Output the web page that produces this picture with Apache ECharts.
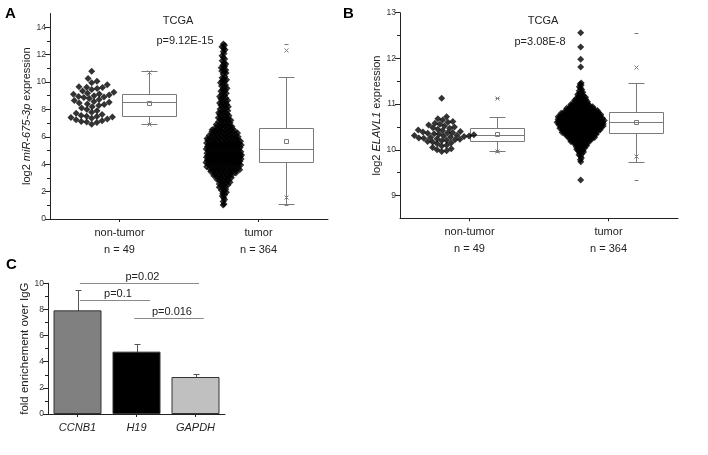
<!DOCTYPE html>
<html><head><meta charset="utf-8">
<script src="https://cdn.jsdelivr.net/npm/echarts@6/dist/echarts.min.js"></script>
<style>html,body{margin:0;padding:0;background:#fff}#c{width:708px;height:455px}</style>
</head><body><div id="c"></div>
<script>
// ---------------- DATA ----------------
const groupLabels = ['non-tumor', 'tumor'];
const groupN = ['n = 49', 'n = 364'];
const titleA = 'TCGA', pvalA = 'p=9.12E-15';
const titleB = 'TCGA', pvalB = 'p=3.08E-8';
const yTicksA = [0, 2, 4, 6, 8, 10, 12, 14];
const yMinorA = [1, 3, 5, 7, 9, 11, 13];
const yTicksB = [9, 10, 11, 12, 13];
const yMinorB = [9.5, 10.5, 11.5, 12.5];

const mirNonTumor = [6.91,7.05,7.08,7.12,7.18,7.25,7.30,7.35,7.40,7.44,7.48,7.50,7.55,7.62,7.72,7.80,7.90,8.00,8.10,8.20,8.28,8.35,8.40,8.46,8.52,8.58,8.65,8.72,8.80,8.86,8.90,8.95,9.00,9.05,9.10,9.13,9.18,9.25,9.35,9.45,9.52,9.60,9.62,9.65,9.80,9.95,10.05,10.25,10.78];

const mirTumor = [1.03,1.10,1.28,1.42,
1.56,1.68,1.77,1.86,1.95,
2.02,2.09,2.18,2.24,2.31,2.37,2.43,2.48,
2.51,2.55,2.62,2.66,2.69,2.74,2.77,2.83,2.85,2.89,2.93,2.97,
3.01,3.04,3.05,3.09,3.11,3.15,3.16,3.20,3.23,3.24,3.27,3.29,3.31,3.35,3.36,3.38,3.41,3.43,3.46,3.47,3.49,
3.50,3.52,3.53,3.56,3.58,3.59,3.61,3.62,3.64,3.66,3.67,3.69,3.71,3.72,3.74,3.75,3.78,3.79,3.81,3.82,3.84,3.86,3.87,3.89,3.91,3.92,3.94,3.96,3.97,3.99,
4.00,4.01,4.02,4.04,4.05,4.06,4.08,4.09,4.10,4.12,4.13,4.14,4.15,4.17,4.18,4.19,4.21,4.22,4.23,4.24,4.26,4.27,4.28,4.30,4.31,4.32,4.33,4.35,4.36,4.37,4.38,4.40,4.41,4.42,4.43,4.44,4.45,4.46,4.47,4.48,4.49,4.49,
4.50,4.51,4.51,4.52,4.53,4.54,4.55,4.55,4.56,4.57,4.58,4.59,4.60,4.61,4.61,4.62,4.63,4.64,4.65,4.66,4.67,4.67,4.68,4.69,4.70,4.71,4.72,4.73,4.73,4.74,4.75,4.76,4.77,4.78,4.79,4.80,4.81,4.82,4.83,4.85,4.86,4.87,4.89,4.90,4.92,4.94,4.96,4.98,
5.00,5.01,5.03,5.04,5.05,5.07,5.08,5.09,5.11,5.12,5.13,5.15,5.16,5.18,5.19,5.20,5.22,5.23,5.25,5.26,5.27,5.29,5.30,5.32,5.33,5.35,5.36,5.38,5.39,5.41,5.42,5.43,5.44,5.45,5.46,5.47,5.48,5.49,5.49,
5.50,5.52,5.53,5.55,5.56,5.58,5.59,5.61,5.63,5.64,5.66,5.67,5.69,5.70,5.72,5.74,5.75,5.77,5.79,5.80,5.82,5.84,5.85,5.87,5.88,5.90,5.92,5.93,5.95,5.97,5.98,5.99,
6.01,6.03,6.05,6.07,6.09,6.11,6.13,6.15,6.17,6.19,6.21,6.23,6.25,6.27,6.29,6.31,6.33,6.35,6.37,6.39,6.41,6.43,6.45,6.46,6.48,6.49,
6.52,6.55,6.58,6.61,6.64,6.66,6.69,6.72,6.75,6.78,6.81,6.84,6.87,6.90,6.94,6.97,
7.02,7.06,7.09,7.13,7.17,7.20,7.24,7.28,7.31,7.35,7.39,7.43,7.47,
7.53,7.57,7.62,7.66,7.71,7.75,7.80,7.85,7.90,7.96,
8.03,8.08,8.14,8.19,8.25,8.31,8.36,8.42,8.47,
8.53,8.59,8.65,8.71,8.77,8.83,8.89,8.95,
9.04,9.11,9.18,9.25,9.32,9.39,9.46,
9.55,9.62,9.70,9.78,9.86,9.94,
10.03,10.10,10.17,10.24,10.31,10.39,
10.58,10.65,10.73,10.81,10.88,10.95,
11.04,11.13,11.22,11.31,11.40,
11.55,11.67,11.79,11.91,
12.08,12.22,12.35,12.47,
12.58,12.68,12.78];

const elavlNonTumor = [9.96,9.98,10.00,10.02,10.05,10.08,10.10,10.13,10.15,10.17,10.18,10.20,10.21,10.22,10.23,10.24,10.25,10.26,10.27,10.28,10.29,10.30,10.30,10.31,10.32,10.33,10.34,10.35,10.36,10.37,10.38,10.39,10.40,10.42,10.43,10.45,10.47,10.48,10.50,10.52,10.54,10.56,10.58,10.60,10.62,10.65,10.68,10.72,11.13];

const elavlTumor = [9.34,
9.74,9.78,
9.82,9.86,9.89,
9.91,9.93,9.95,9.96,9.98,9.99,
10.00,10.01,10.02,10.03,10.04,10.05,10.06,10.07,10.08,10.09,
10.10,10.11,10.11,10.12,10.13,10.13,10.14,10.15,10.15,10.16,10.17,10.17,10.18,10.18,10.19,10.19,
10.20,10.20,10.21,10.21,10.22,10.22,10.22,10.23,10.23,10.24,10.24,10.24,10.25,10.25,10.26,10.26,10.26,10.27,10.27,10.28,10.28,10.28,10.29,10.29,
10.30,10.30,10.30,10.31,10.31,10.31,10.32,10.32,10.32,10.32,10.33,10.33,10.33,10.34,10.34,10.34,10.35,10.35,10.35,10.35,10.36,10.36,10.36,10.37,10.37,10.37,10.38,10.38,10.38,10.39,10.39,10.39,
10.40,10.40,10.40,10.40,10.41,10.41,10.41,10.41,10.42,10.42,10.42,10.42,10.43,10.43,10.43,10.43,10.44,10.44,10.44,10.44,10.45,10.45,10.45,10.45,10.46,10.46,10.46,10.46,10.47,10.47,10.47,10.47,10.48,10.48,10.48,10.48,10.49,10.49,10.49,10.49,
10.50,10.50,10.50,10.50,10.51,10.51,10.51,10.51,10.52,10.52,10.52,10.52,10.52,10.53,10.53,10.53,10.53,10.54,10.54,10.54,10.54,10.55,10.55,10.55,10.55,10.55,10.56,10.56,10.56,10.56,10.57,10.57,10.57,10.57,10.57,10.58,10.58,10.58,10.58,10.59,10.59,10.59,10.59,10.59,
10.60,10.60,10.60,10.60,10.60,10.61,10.61,10.61,10.61,10.62,10.62,10.62,10.62,10.62,10.63,10.63,10.63,10.63,10.64,10.64,10.64,10.64,10.64,10.65,10.65,10.65,10.65,10.65,10.66,10.66,10.66,10.66,10.67,10.67,10.67,10.67,10.67,10.68,10.68,10.68,10.68,10.69,10.69,10.69,10.69,10.69,
10.70,10.70,10.70,10.70,10.71,10.71,10.71,10.71,10.72,10.72,10.72,10.72,10.73,10.73,10.73,10.73,10.73,10.74,10.74,10.74,10.74,10.75,10.75,10.75,10.75,10.76,10.76,10.76,10.76,10.77,10.77,10.77,10.77,10.78,10.78,10.78,10.78,10.79,10.79,10.79,10.79,
10.80,10.80,10.80,10.80,10.81,10.81,10.81,10.82,10.82,10.82,10.82,10.83,10.83,10.83,10.84,10.84,10.84,10.84,10.85,10.85,10.85,10.86,10.86,10.86,10.86,10.87,10.87,10.87,10.88,10.88,10.88,10.89,10.89,10.89,
10.90,10.90,10.91,10.91,10.91,10.92,10.92,10.93,10.93,10.93,10.94,10.94,10.95,10.95,10.95,10.96,10.96,10.97,10.97,10.97,10.98,10.98,10.99,10.99,
11.00,11.01,11.01,11.02,11.03,11.04,11.04,11.05,11.06,11.06,11.07,11.07,11.08,11.09,11.09,
11.10,11.11,11.12,11.13,11.14,11.15,11.16,11.17,11.18,11.19,
11.21,11.22,11.24,11.26,11.27,11.29,
11.32,11.35,11.38,
11.41,11.44,11.46,
11.81,11.98,12.25,12.56];

// box statistics: [whiskerLow, Q1, median, Q3, whiskerHigh, mean, p1, p99, min, max]
const mirBoxNonTumor = [6.91, 7.52, 8.52, 9.15, 10.78, 8.45, 6.95, 10.75, 6.91, 10.78];
const mirBoxTumor = [1.09, 4.14, 5.13, 6.66, 10.39, 5.72, 1.63, 12.33, 1.05, 12.80];
const elavlBoxNonTumor = [9.98, 10.20, 10.32, 10.47, 10.72, 10.34, 9.98, 11.13, 9.96, 11.13];
const elavlBoxTumor = [9.74, 10.37, 10.61, 10.82, 11.46, 10.61, 9.87, 11.81, 9.34, 12.56];

// panel C
const ripGenes = ['CCNB1', 'H19', 'GAPDH'];
const ripMeans = [7.93, 4.77, 2.83];
const ripErrors = [1.56, 0.56, 0.24];
const ripColors = ['#808080', '#000000', '#c0c0c0'];
const ripBrackets = [ // [fromX, toX, y, label]
  [0.04, 2.06, 10.0, 'p=0.02'],
  [0.04, 1.23, 8.72, 'p=0.1'],
  [0.96, 2.14, 7.32, 'p=0.016']
];

// ---------------- LAYOUT ----------------
const FONT = 'Liberation Sans, Arial, Helvetica, sans-serif';
const gA = {left: 50, top: 13.5, width: 278, height: 205.5};
const gB = {left: 400, top: 12.7, width: 278, height: 205.6};
const gC = {left: 48, top: 283.3, width: 177, height: 130.7};
const SWARM_OFF_A = [0.2, 0.25], BOX_OFF_A = [0.21, 0.195];
const SWARM_OFF_B = [0.2, 0.2], BOX_OFF_B = [0.2, 0.2];
const BOX_W = 53, CAP_W = 15;

// greedy beeswarm (sparse groups)
function swarm(values, pxPerUnit, d) {
  const idx = values.map((v, i) => i).sort((a, b) => values[a] - values[b]);
  const placed = [];
  const out = new Array(values.length);
  for (const i of idx) {
    const y = values[i] * pxPerUnit;
    const near = placed.filter(p => Math.abs(p.y - y) < d);
    const cands = [0];
    near.forEach(p => { const dx = Math.sqrt(d * d - (p.y - y) ** 2); cands.push(p.x + dx, p.x - dx); });
    cands.sort((a, b) => Math.abs(a) - Math.abs(b));
    let x = 0;
    for (const c of cands) {
      if (near.every(p => (p.x - c) ** 2 + (p.y - y) ** 2 >= d * d - 1e-6)) { x = c; break; }
    }
    placed.push({x, y});
    out[i] = x;
  }
  return out;
}
// density-scaled deterministic spread (dense groups)
function densitySpread(values, pxPerUnit, win, k, cap) {
  const ys = values.map(v => v * pxPerUnit);
  const order = values.map((v, i) => i).sort((a, b) => values[a] - values[b]);
  const out = new Array(values.length);
  order.forEach((i, r) => {
    const cnt = ys.filter(y => Math.abs(y - ys[i]) <= win).length;
    const hw = Math.min(cap, k * (cnt - 1)) / 2;
    const u = ((r * 0.6180339887) % 1) * 2 - 1;
    out[i] = hw * u;
  });
  return out;
}
function toData(values, off, center, pxX) {
  return values.map((v, i) => [center + off[i] / pxX, v]);
}
const pxXA = gA.width / 2, pxYA = gA.height / 15;
const pxXB = gB.width / 2, pxYB = gB.height / 4.5;

const half = v => Math.round(v) + 0.5;
function boxRender(params, api) {
  const x = api.value(0);
  const s = [1,2,3,4,5,6,7,8,9,10].map(i => api.value(i));
  const [wlo, q1, med, q3, whi, mean, p1, p99, mn, mx] = s;
  const cx = half(api.coord([x, med])[0]);
  const Y = v => half(api.coord([x, v])[1]);
  const st = {stroke: '#7a7a7a', fill: null, lineWidth: 1};
  const line = (x1, y1, x2, y2) => ({type: 'line', shape: {x1, y1, x2, y2}, style: st});
  const ch = [];
  const hw = Math.round(BOX_W / 2), cw = Math.round(CAP_W / 2);
  ch.push({type: 'rect', shape: {x: cx - hw, y: Y(q3), width: 2 * hw, height: Y(q1) - Y(q3)}, style: st});
  ch.push(line(cx - hw, Y(med), cx + hw, Y(med)));
  ch.push(line(cx, Y(q3), cx, Y(whi)));
  ch.push(line(cx, Y(q1), cx, Y(wlo)));
  ch.push(line(cx - cw, Y(whi), cx + cw, Y(whi)));
  ch.push(line(cx - cw, Y(wlo), cx + cw, Y(wlo)));
  ch.push({type: 'rect', shape: {x: cx - 2, y: Y(mean) - 2, width: 4, height: 4}, style: st});
  [p1, p99].forEach(v => { const y = Y(v); ch.push(line(cx - 2, y - 2, cx + 2, y + 2)); ch.push(line(cx - 2, y + 2, cx + 2, y - 2)); });
  [mn, mx].forEach(v => { const y = Y(v); ch.push(line(cx - 2, y, cx + 2, y)); });
  return {type: 'group', children: ch};
}

const axisLineStyle = {color: '#222', width: 1};
const tickLbl = {fontSize: 8.5, color: '#333', fontFamily: FONT};

function xGroupAxis(gridIndex) {
  return {
    type: 'value', gridIndex, min: 0.5, max: 2.5,
    axisLine: {show: true, onZero: false, lineStyle: axisLineStyle},
    axisTick: {show: true, customValues: [1, 2], length: 3, lineStyle: axisLineStyle},
    axisLabel: {customValues: [1, 2], formatter: v => groupLabels[v - 1] + '\n' + groupN[v - 1],
      fontSize: 11, lineHeight: 17, color: '#222', fontFamily: FONT, margin: 5},
    splitLine: {show: false}
  };
}
function yMajor(gridIndex, min, max, ticks, name, rich, gap) {
  return {
    type: 'value', gridIndex, min, max,
    axisLine: {show: true, onZero: false, lineStyle: axisLineStyle},
    axisTick: {show: true, customValues: ticks, length: 5, lineStyle: axisLineStyle},
    axisLabel: {customValues: ticks, ...tickLbl, margin: 4},
    splitLine: {show: false},
    name, nameLocation: 'middle', nameGap: gap, nameRotate: 90,
    nameTextStyle: {rich}
  };
}
function yMinor(gridIndex, min, max, ticks) {
  return {
    type: 'value', gridIndex, min, max, position: 'left',
    axisLine: {show: false},
    axisTick: {show: true, customValues: ticks, length: 3, lineStyle: axisLineStyle},
    axisLabel: {show: false}, splitLine: {show: false}
  };
}
const richBase = {fontSize: 11, color: '#222', fontFamily: FONT};
const richName = {n: richBase, i: {...richBase, fontStyle: 'italic'}};
const txt = {fontSize: 11, fill: '#222', fontFamily: FONT, align: 'center', verticalAlign: 'middle'};
const dotStyle = {symbol: 'diamond', symbolSize: 7, itemStyle: {color: '#000'}};

const chart = echarts.init(document.getElementById('c'), null, {renderer: 'canvas'});
chart.setOption({
  animation: false,
  backgroundColor: '#fff',
  grid: [
    {left: gA.left, top: gA.top, width: gA.width, height: gA.height},
    {left: gB.left, top: gB.top, width: gB.width, height: gB.height},
    {left: gC.left, top: gC.top, width: gC.width, height: gC.height}
  ],
  xAxis: [
    xGroupAxis(0),
    xGroupAxis(1),
    {type: 'category', gridIndex: 2, data: ripGenes,
      axisLine: {show: true, onZero: false, lineStyle: axisLineStyle},
      axisTick: {show: true, alignWithLabel: true, length: 3, lineStyle: axisLineStyle},
      axisLabel: {fontSize: 11, fontStyle: 'italic', color: '#222', fontFamily: FONT, margin: 8}},
    {type: 'value', gridIndex: 2, min: -0.5, max: 2.5, show: false}
  ],
  yAxis: [
    yMajor(0, 0, 15, yTicksA, '{n|log2 }{i|miR-675-3p}{n| expression}', richName, 18),
    yMinor(0, 0, 15, yMinorA),
    yMajor(1, 8.5, 13, yTicksB, '{n|log2 }{i|ELAVL1}{n| expression}', richName, 16),
    yMinor(1, 8.5, 13, yMinorB),
    {type: 'value', gridIndex: 2, min: 0, max: 10, interval: 2,
      axisLine: {show: true, onZero: false, lineStyle: axisLineStyle},
      axisTick: {show: true, length: 5, lineStyle: axisLineStyle},
      minorTick: {show: true, splitNumber: 2, length: 3, lineStyle: axisLineStyle},
      axisLabel: {...tickLbl, margin: 4},
      splitLine: {show: false},
      name: 'fold enrichement over IgG', nameLocation: 'middle', nameGap: 5, nameRotate: 90,
      nameTextStyle: {fontSize: 11.5, color: '#222', fontFamily: FONT}}
  ],
  series: [
    {type: 'scatter', xAxisIndex: 0, yAxisIndex: 0, ...dotStyle,
      data: toData(mirNonTumor, swarm(mirNonTumor, pxYA, 5.5), 1 - SWARM_OFF_A[0], pxXA)},
    {type: 'scatter', xAxisIndex: 0, yAxisIndex: 0, ...dotStyle,
      data: toData(mirTumor, densitySpread(mirTumor, pxYA, 3.4, 1.2, 36), 2 - SWARM_OFF_A[1], pxXA)},
    {type: 'scatter', xAxisIndex: 1, yAxisIndex: 2, ...dotStyle,
      data: toData(elavlNonTumor, swarm(elavlNonTumor, pxYB, 5), 1 - SWARM_OFF_B[0], pxXB)},
    {type: 'scatter', xAxisIndex: 1, yAxisIndex: 2, ...dotStyle,
      data: toData(elavlTumor, densitySpread(elavlTumor, pxYB, 3.4, 0.72, 50), 2 - SWARM_OFF_B[1], pxXB)},
    {type: 'custom', xAxisIndex: 0, yAxisIndex: 0, renderItem: boxRender,
      data: [[1 + BOX_OFF_A[0], ...mirBoxNonTumor], [2 + BOX_OFF_A[1], ...mirBoxTumor]]},
    {type: 'custom', xAxisIndex: 1, yAxisIndex: 2, renderItem: boxRender,
      data: [[1 + BOX_OFF_B[0], ...elavlBoxNonTumor], [2 + BOX_OFF_B[1], ...elavlBoxTumor]]},
    {type: 'bar', xAxisIndex: 2, yAxisIndex: 4, barWidth: 48,
      data: ripMeans.map((v, i) => ({value: v, itemStyle: {color: ripColors[i], borderColor: '#333', borderWidth: 1}}))},
    {type: 'custom', xAxisIndex: 3, yAxisIndex: 4,
      data: ripMeans.map((v, i) => [i, v - ripErrors[i], v + ripErrors[i]]),
      renderItem: (params, api) => {
        const lo = api.coord([api.value(0), api.value(1)]);
        const hi = api.coord([api.value(0), api.value(2)]);
        const x = half(lo[0]);
        const st = {stroke: '#555', lineWidth: 1};
        return {type: 'group', children: [
          {type: 'line', shape: {x1: x, y1: half(lo[1]), x2: x, y2: half(hi[1])}, style: st},
          {type: 'line', shape: {x1: x - 3, y1: half(lo[1]), x2: x + 3, y2: half(lo[1])}, style: st},
          {type: 'line', shape: {x1: x - 3, y1: half(hi[1]), x2: x + 3, y2: half(hi[1])}, style: st}
        ]};
      }},
    {type: 'custom', xAxisIndex: 3, yAxisIndex: 4,
      data: ripBrackets.map(b => [b[0], b[1], b[2]]),
      renderItem: (params, api) => {
        const a = api.coord([api.value(0), api.value(2)]);
        const b = api.coord([api.value(1), api.value(2)]);
        const y = half(a[1]);
        return {type: 'group', children: [
          {type: 'line', shape: {x1: a[0], y1: y, x2: b[0], y2: y}, style: {stroke: '#8a8a8a', lineWidth: 1}},
          {type: 'text', x: (a[0] + b[0]) / 2 + 3, y: y - 1,
            style: {text: ripBrackets[params.dataIndex][3], fontSize: 11, fill: '#222', fontFamily: FONT,
              align: 'center', verticalAlign: 'bottom'}}
        ]};
      }}
  ],
  graphic: [
    {type: 'text', left: 5, top: 6, style: {text: 'A', fontSize: 15, fontWeight: 'bold', fill: '#000', fontFamily: FONT}},
    {type: 'text', left: 343, top: 6, style: {text: 'B', fontSize: 15, fontWeight: 'bold', fill: '#000', fontFamily: FONT}},
    {type: 'text', left: 6, top: 257, style: {text: 'C', fontSize: 15, fontWeight: 'bold', fill: '#000', fontFamily: FONT}},
    {type: 'text', x: 178, y: 21, style: {text: titleA, ...txt}},
    {type: 'text', x: 185, y: 41, style: {text: pvalA, ...txt}},
    {type: 'text', x: 543, y: 21, style: {text: titleB, ...txt}},
    {type: 'text', x: 540, y: 42, style: {text: pvalB, ...txt}}
  ]
});
</script>
</body></html>
